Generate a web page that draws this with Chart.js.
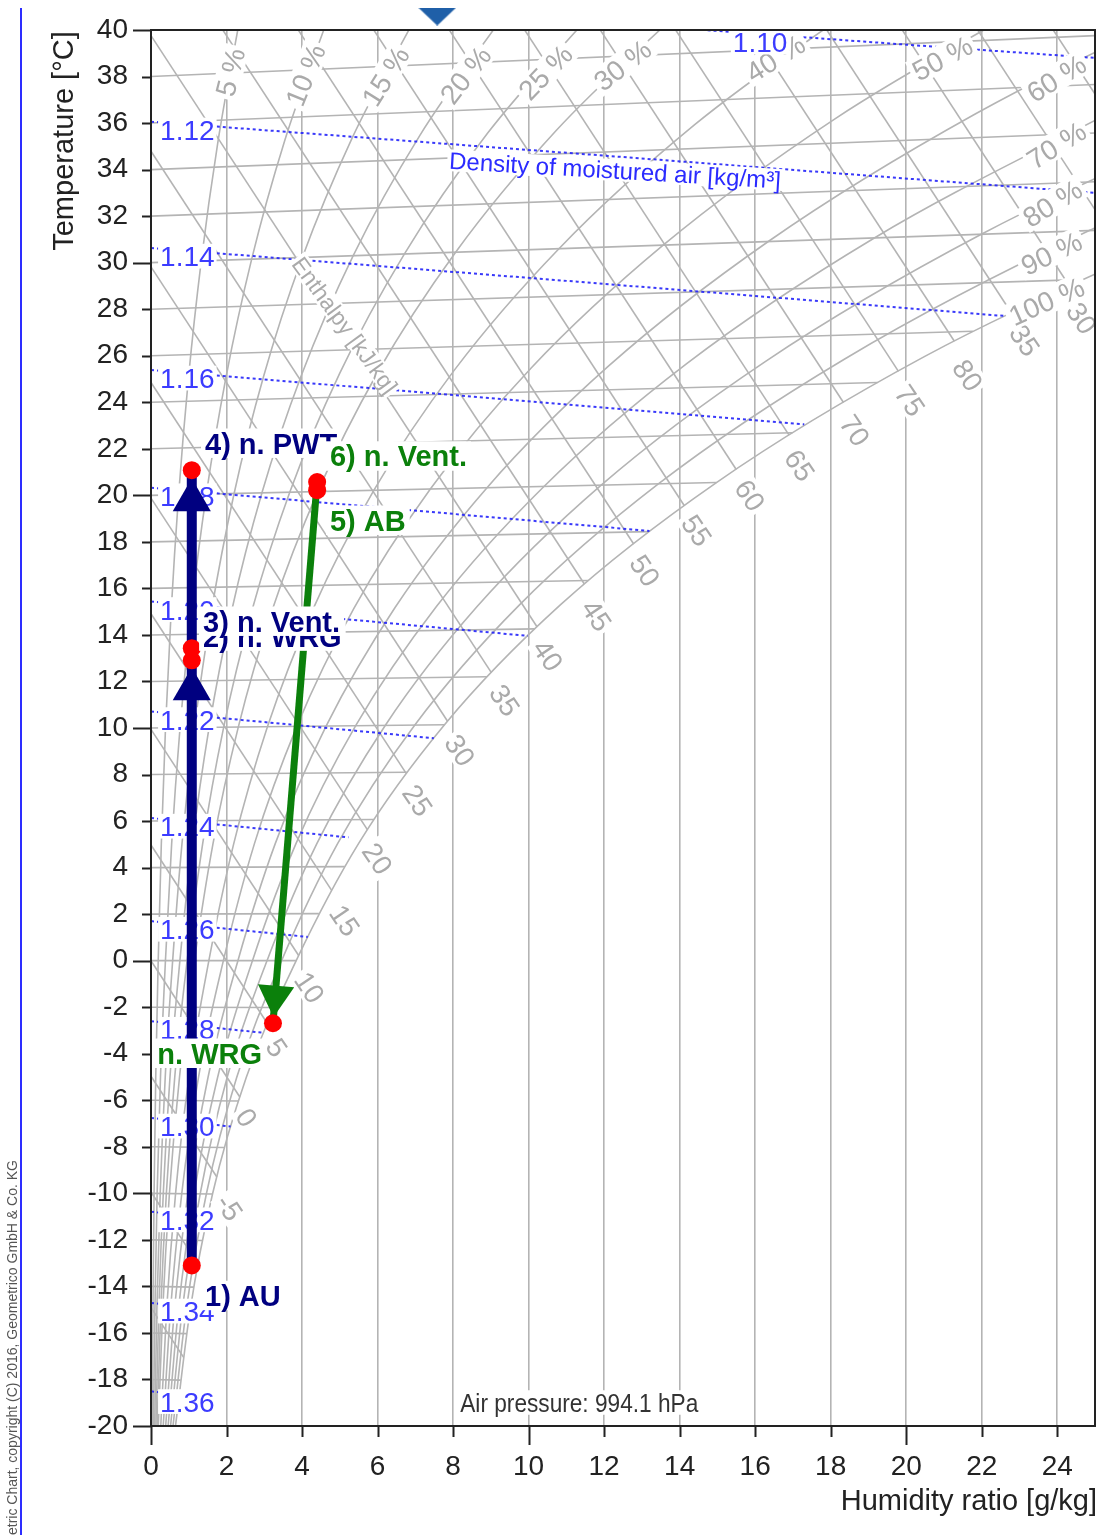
<!DOCTYPE html>
<html lang="en">
<head>
<meta charset="utf-8">
<title>Psychrometric chart</title>
<script src="https://cdn.jsdelivr.net/npm/chart.js@4.4.1/dist/chart.umd.min.js"></script>
<style>
  html, body { margin: 0; padding: 0; background: #ffffff; }
  canvas { display: block; }
</style>
</head>
<body>
<canvas id="psychroChart" width="1104" height="1535"></canvas>
<script>
// axis ticks
const xTicks = [0, 2, 4, 6, 8, 10, 12, 14, 16, 18, 20, 22, 24];
const yTicks = [-20, -18, -16, -14, -12, -10, -8, -6, -4, -2, 0, 2, 4, 6, 8, 10, 12, 14, 16, 18, 20, 22, 24, 26, 28, 30, 32, 34, 36, 38, 40];

// isotherms every 2 °C, end point on the saturation line (or the right border)
const isoTemps = [-20, -18, -16, -14, -12, -10, -8, -6, -4, -2, 0, 2, 4, 6, 8, 10, 12, 14, 16, 18, 20, 22, 24, 26, 28, 30, 32, 34, 36, 38];
const isoEndX = [0.646, 0.786, 0.946, 1.138, 1.363, 1.629, 1.944, 2.314, 2.748, 3.254, 3.845, 4.446, 5.128, 5.904, 6.781, 7.773, 8.898, 10.162, 11.581, 13.182, 14.975, 16.989, 19.242, 21.766, 24.586, 25, 25, 25, 25, 25];
const isoEndY = [-20.02, -18.03, -16.03, -14.03, -12.03, -10.03, -8.03, -6.03, -4.02, -2.01, 0, 2.02, 4.04, 6.07, 8.10, 10.14, 12.20, 14.26, 16.34, 18.44, 20.55, 22.69, 24.85, 27.05, 29.27, 31.39, 33.48, 35.57, 37.66, 39.76];

// enthalpy lines [kJ/kg]
const enthValues = [-15, -10, -5, 0, 5, 10, 15, 20, 25, 30, 35, 40, 45, 50, 55, 60, 65, 70, 75, 80, 85, 90, 95, 100];
const enthStartY = [-14.91, -9.94, -4.97, 0, 4.97, 9.94, 14.91, 19.88, 24.85, 29.82, 34.79, 39.76, 44.73, 49.70, 54.67, 59.64, 64.61, 69.58, 74.55, 79.52, 84.49, 89.46, 94.43, 99.40];
const enthEndX = [0.864, 1.249, 1.744, 2.352, 3.083, 3.910, 4.784, 5.734, 6.758, 7.854, 9.014, 10.222, 11.477, 12.783, 14.125, 15.499, 16.898, 18.339, 19.795, 21.276, 22.784, 24.301, 25, 25];
const enthEndY = [-17.05, -13.04, -9.30, -5.86, -2.70, 0.22, 3.02, 5.62, 8.05, 10.29, 12.38, 14.35, 16.19, 17.91, 19.55, 21.11, 22.59, 23.99, 25.33, 26.62, 27.85, 29.05, 32.28, 37.25];
const enthLabelText = ['-5', '0', '5', '10', '15', '20', '25', '30', '35', '40', '45', '50', '55', '60', '65', '70', '75', '80', '35', '30'];
const enthLabelX = [2.09, 2.54, 3.34, 4.21, 5.14, 6.01, 7.07, 8.19, 9.38, 10.52, 11.81, 13.09, 14.46, 15.87, 17.19, 18.65, 20.11, 21.64, 23.15, 24.66];
const enthLabelY = [-10.6, -6.73, -3.72, -1.14, 1.74, 4.4, 6.9, 9.05, 11.2, 13.13, 14.85, 16.78, 18.5, 20.01, 21.3, 22.8, 24.09, 25.17, 26.67, 27.62];

// relative humidity curves, points at -20, -15, ... °C
const rhLevels = [5, 10, 15, 20, 25, 30, 40, 50, 60, 70, 80, 90, 100];
const rhX = [
  [0.0323, 0.0517, 0.0813, 0.1256, 0.1911, 0.2729, 0.3841, 0.5336, 0.7320, 0.9924, 1.3303, 1.7642, 2.3158],
  [0.0646, 0.1034, 0.1625, 0.2513, 0.3824, 0.5460, 0.7687, 1.0680, 1.4656, 1.9879, 2.6661, 3.5382, 4.6487],
  [0.0969, 0.1551, 0.2438, 0.3771, 0.5738, 0.8194, 1.1537, 1.6034, 2.2011, 2.9866, 4.0078, 5.3226, 6.9996],
  [0.1292, 0.2068, 0.3252, 0.5029, 0.7653, 1.0930, 1.5393, 2.1397, 2.9383, 3.9885, 5.3553, 7.1170, 9.3679],
  [0.1615, 0.2585, 0.4065, 0.6287, 0.9569, 1.3669, 1.9252, 2.6769, 3.6772, 4.9937, 6.7086, 8.9217, 11.7542],
  [0.1938, 0.3102, 0.4878, 0.7545, 1.1486, 1.6409, 2.3118, 3.2150, 4.4178, 6.0021, 8.0677, 10.7370, 14.1585],
  [0.2584, 0.4136, 0.6506, 1.0065, 1.5325, 2.1899, 3.0861, 4.2942, 5.9045, 8.0285, 10.8037, 14.3988, 19.0224],
  [0.3230, 0.5174, 0.8136, 1.2586, 1.9168, 2.7397, 3.8624, 5.3770, 7.3982, 10.0682, 13.5635, 18.1034, 23.9613],
  [0.3876, 0.6208, 0.9765, 1.5110, 2.3015, 3.2905, 4.6407, 6.4636, 8.8990, 12.1210, 16.3474, 21.8511, 28.9767],
  [0.4520, 0.7244, 1.1395, 1.7635, 2.6868, 3.8424, 5.4209, 7.5538, 10.4068, 14.1873, 19.1560, 25.6436],
  [0.5166, 0.8280, 1.3026, 2.0162, 3.0725, 4.3952, 6.2030, 8.6480, 11.9222, 16.2670, 21.9892, 29.4802],
  [0.5812, 0.9317, 1.4659, 2.2692, 3.4586, 4.9489, 6.9871, 9.7460, 13.4445, 18.3606, 24.8477, 33.3626],
  [0.6464, 1.0353, 1.6292, 2.5223, 3.8453, 5.5037, 7.7732, 10.8476, 14.9744, 20.4675, 27.7320]
];
const rhY = [
  [-20, -15, -10, -5, 0, 5.00, 10.01, 15.01, 20.03, 25.05, 30.07, 35.11, 40.17],
  [-20, -15, -10, -5, 0, 5.00, 10.01, 15.03, 20.05, 25.09, 30.15, 35.23, 40.34],
  [-20, -15, -10, -5, 0, 5.01, 10.02, 15.04, 20.08, 25.14, 30.22, 35.34, 40.52],
  [-20, -15.01, -10.01, -5, 0, 5.01, 10.03, 15.06, 20.11, 25.18, 30.30, 35.46, 40.69],
  [-20.01, -15.01, -10.01, -5.01, 0, 5.01, 10.04, 15.07, 20.14, 25.23, 30.37, 35.58, 40.87],
  [-20.01, -15.01, -10.01, -5.01, 0, 5.02, 10.04, 15.09, 20.16, 25.28, 30.45, 35.69, 41.05],
  [-20.01, -15.01, -10.01, -5.01, 0, 5.02, 10.06, 15.12, 20.22, 25.37, 30.60, 35.93, 41.41],
  [-20.01, -15.01, -10.02, -5.01, 0, 5.03, 10.07, 15.15, 20.27, 25.47, 30.75, 36.17, 41.77],
  [-20.02, -15.02, -10.02, -5.01, 0, 5.03, 10.09, 15.18, 20.33, 25.56, 30.91, 36.41, 42.14],
  [-20.02, -15.02, -10.02, -5.02, 0, 5.04, 10.10, 15.21, 20.38, 25.66, 31.06, 36.66],
  [-20.02, -15.02, -10.02, -5.02, 0, 5.04, 10.11, 15.24, 20.44, 25.75, 31.22, 36.91],
  [-20.02, -15.03, -10.03, -5.02, 0, 5.05, 10.13, 15.27, 20.50, 25.85, 31.38, 37.16],
  [-20.02, -15.03, -10.03, -5.02, 0, 5.05, 10.14, 15.30, 20.55, 25.95, 31.54]
];
const rhLabelText = ['5 %', '10 %', '15 %', '20 %', '25 %', '30 %', '40 %', '50 %', '60 %', '70 %', '80 %', '90 %', '100 %'];
const rhLabelX = [2.09, 4.08, 6.20, 8.32, 10.44, 12.48, 16.53, 20.95, 23.97, 23.97, 23.87, 23.84, 23.71];
const rhLabelY = [38.19, 38.07, 38.02, 38.07, 38.19, 38.50, 38.80, 38.80, 37.94, 35.06, 32.56, 30.41, 28.35];
const rhLabelAngle = [-76, -68, -58, -52, -46, -38, -32, -28, -32, -32, -32, -26, -24];

// density of moist air [kg/m³]
const densLabels = ['1.10', '1.12', '1.14', '1.16', '1.18', '1.20', '1.22', '1.24', '1.26', '1.28', '1.30', '1.32', '1.34', '1.36'];
const densX = [
  [0, 10, 15, 20, 25], [0, 12.5, 25], [0, 11.3, 22.6], [0, 8.65, 17.3], [0, 6.6, 13.2], [0, 5, 9.98],
  [0, 3.75, 7.49], [0, 2.6, 5.23], [0, 4.15], [0, 2.97], [0, 2.11], [0, 1.49], [0, 1.05], [0, 0.74]
];
const densY = [
  [41.68, 40.53, 39.96, 39.37, 38.80], [36.06, 34.54, 33.00], [30.63, 29.18, 27.71], [25.39, 24.22, 23.05],
  [20.33, 19.40, 18.47], [15.44, 14.70, 13.96], [10.71, 10.14, 9.56], [6.13, 5.72, 5.30], [1.70, 1.02],
  [-2.60, -3.10], [-6.76, -7.13], [-10.79, -11.06], [-14.71, -14.90], [-18.51, -18.65]
];
const densLabelX = [16.13, 0.24, 0.24, 0.24, 0.24, 0.24, 0.24, 0.24, 0.24, 0.24, 0.24, 0.24, 0.24, 0.24];
const densLabelY = [39.48, 35.70, 30.28, 25.04, 19.98, 15.09, 10.36, 5.78, 1.35, -2.95, -7.11, -11.14, -15.06, -18.95];

// captions inside the plot
const captionText = ['Density of moistured air [kg/m³]', 'Enthalpy [kJ/kg]', 'Air pressure: 994.1 hPa'];
const captionX = [12.29, 5.14, 8.19];
const captionY = [33.98, 27.32, -18.99];
const captionAngle = [3.4, 54, 0];

// air handling process: state points
const procLabels = ['1) AU', '2) n. WRG', '3) n. Vent.', '4) n. PWT', '5) AB', '6) n. Vent.', '7) n. WRG'];
const procX = [1.08, 1.08, 1.08, 1.08, 4.40, 4.40, 3.23];
const procY = [-13.1, 12.91, 13.43, 21.08, 20.22, 20.57, -2.69];
const procLabelX = [1.43, 1.38, 1.38, 1.43, 4.74, 4.74, 2.94];
const procLabelY = [-14.39, 13.95, 14.59, 22.24, 18.93, 21.69, -3.98];
const procSegments = [[0, 1], [2, 3], [5, 6]];
const arrowX = [1.08, 1.08, 3.29];
const arrowY = [11.67, 19.79, -1.53];
const arrowRot = [0, 0, 184.7];
const markerX = [7.58];
const markerY = [40.58];

const FONT = "'Liberation Sans', Arial, Helvetica, sans-serif";
const gridGray = '#b4b4b4';
const labelGray = '#aaaaaa';
const densBlue = 'rgba(35, 35, 250, 0.9)';
const navy = '#000080';
const green = '#0b800b';
const procColors = [navy, navy, navy, navy, green, green, green];
const procAlign = ['left', 'left', 'left', 'left', 'left', 'left', 'right'];

Chart.defaults.font.family = FONT;

// little flat triangle used as the marker above the plot
const markerImg = document.createElement('canvas');
markerImg.width = 38;
markerImg.height = 18;
(function () {
  const t = markerImg.getContext('2d');
  t.fillStyle = '#1f5fa8';
  t.beginPath();
  t.moveTo(0, 0);
  t.lineTo(38, 0);
  t.lineTo(19, 18);
  t.closePath();
  t.fill();
})();

const datasets = [];
const bgLine = (data) => ({ data, showLine: true, borderColor: gridGray, borderWidth: 1.6, pointRadius: 0, order: 10 });

isoTemps.forEach((t, i) => datasets.push(bgLine([{ x: 0, y: t }, { x: isoEndX[i], y: isoEndY[i] }])));
enthValues.forEach((h, i) => datasets.push(bgLine([{ x: 0, y: enthStartY[i] }, { x: enthEndX[i], y: enthEndY[i] }])));
rhLevels.forEach((rh, i) => {
  const ds = bgLine(rhX[i].map((x, j) => ({ x, y: rhY[i][j] })));
  ds.cubicInterpolationMode = 'monotone';
  datasets.push(ds);
});
densLabels.forEach((d, i) => datasets.push({
  data: densX[i].map((x, j) => ({ x, y: densY[i][j] })),
  showLine: true, borderColor: densBlue, borderWidth: 2, borderDash: [3, 3], pointRadius: 0, order: 9
}));

procSegments.forEach(([a, b]) => datasets.push({
  layer: 'process',
  data: [{ x: procX[a], y: procY[a] }, { x: procX[b], y: procY[b] }],
  showLine: true,
  borderColor: procColors[a],
  borderWidth: procColors[a] === navy ? 10 : 7,
  pointRadius: 0,
  order: 3
}));

datasets.push({
  layer: 'process',
  data: arrowX.map((x, i) => ({ x, y: arrowY[i] })),
  pointStyle: 'triangle',
  pointRadius: [22, 22, 21],
  pointRotation: arrowRot,
  pointBackgroundColor: [navy, navy, green],
  pointBorderWidth: 0,
  order: 2
});

datasets.push({
  layer: 'process',
  data: procX.map((x, i) => ({ x, y: procY[i] })),
  pointRadius: 9,
  pointBackgroundColor: '#ff0000',
  pointBorderWidth: 0,
  order: 1
});

datasets.push({
  layer: 'process',
  data: markerX.map((x, i) => ({ x, y: markerY[i] })),
  pointStyle: markerImg,
  pointRadius: 20,
  clip: false,
  order: 0
});

function drawLabel(ctx, text, px, py, deg, size, weight, color, align, pad, fitWidth) {
  ctx.save();
  ctx.translate(px, py);
  ctx.rotate(deg * Math.PI / 180);
  ctx.font = weight + ' ' + size + 'px ' + FONT;
  let w = ctx.measureText(text).width;
  if (fitWidth) w = fitWidth;
  const h = size * 0.74;
  const left = align === 'left' ? 0 : (align === 'right' ? -w : -w / 2);
  if (pad !== null) {
    ctx.fillStyle = '#ffffff';
    ctx.fillRect(left - pad, -h / 2 - pad, w + pad * 2, h + pad * 2);
  }
  ctx.fillStyle = color;
  ctx.textAlign = align;
  ctx.textBaseline = 'alphabetic';
  if (fitWidth) ctx.fillText(text, 0, size * 0.36, fitWidth);
  else ctx.fillText(text, 0, size * 0.36);
  ctx.restore();
}

function clipToArea(ctx, a) {
  ctx.beginPath();
  ctx.rect(a.left, a.top, a.right - a.left, a.bottom - a.top);
  ctx.clip();
}

// labels of the chart's own line families, drawn below the process
function drawChartLabels(chart) {
  const { ctx, chartArea, scales: { x, y } } = chart;
  ctx.save();
  clipToArea(ctx, chartArea);
  enthLabelText.forEach((t, i) => drawLabel(ctx, t, x.getPixelForValue(enthLabelX[i]), y.getPixelForValue(enthLabelY[i]), 56, 28, 'normal', labelGray, 'center', 3));
  rhLabelText.forEach((t, i) => drawLabel(ctx, t, x.getPixelForValue(rhLabelX[i]), y.getPixelForValue(rhLabelY[i]), rhLabelAngle[i], 28, 'normal', labelGray, 'center', 3));
  densLabels.forEach((t, i) => drawLabel(ctx, t, x.getPixelForValue(densLabelX[i]), y.getPixelForValue(densLabelY[i]), 0, 28, 'normal', '#3c3cff', i === 0 ? 'center' : 'left', 2));
  drawLabel(ctx, captionText[0], x.getPixelForValue(captionX[0]), y.getPixelForValue(captionY[0]), captionAngle[0], 24, 'normal', '#2b2bff', 'center', 2);
  drawLabel(ctx, captionText[1], x.getPixelForValue(captionX[1]), y.getPixelForValue(captionY[1]), captionAngle[1], 23, 'normal', labelGray, 'center', 2);
  drawLabel(ctx, captionText[2], x.getPixelForValue(captionX[2]), y.getPixelForValue(captionY[2]), captionAngle[2], 25, 'normal', '#333333', 'left', 3, 238);
  ctx.restore();
}

function drawProcessLabels(chart) {
  const { ctx, chartArea, scales: { x, y } } = chart;
  ctx.save();
  clipToArea(ctx, chartArea);
  procLabels.forEach((t, i) => drawLabel(ctx, t, x.getPixelForValue(procLabelX[i]), y.getPixelForValue(procLabelY[i]), 0, 29, 'bold', procColors[i], procAlign[i], 4));
  ctx.restore();
}

function drawFrame(chart) {
  const { ctx, chartArea: a, scales: { x, y } } = chart;
  ctx.save();
  ctx.strokeStyle = '#222222';
  ctx.lineWidth = 2;
  ctx.strokeRect(a.left, a.top, a.right - a.left, a.bottom - a.top);
  ctx.beginPath();
  yTicks.forEach(v => {
    const py = Math.round(y.getPixelForValue(v)) + 0.5;
    ctx.moveTo(a.left - (v % 10 === 0 ? 18 : 9), py);
    ctx.lineTo(a.left, py);
  });
  xTicks.forEach(v => {
    const px = Math.round(x.getPixelForValue(v)) + 0.5;
    ctx.moveTo(px, a.bottom);
    ctx.lineTo(px, a.bottom + (v % 10 === 0 ? 19 : 11));
  });
  ctx.stroke();

  // axis titles
  ctx.fillStyle = '#222222';
  ctx.font = '29px ' + FONT;
  ctx.textBaseline = 'middle';
  ctx.save();
  ctx.translate(65, 141);
  ctx.rotate(-Math.PI / 2);
  ctx.textAlign = 'center';
  ctx.fillText('Temperature [°C]', 0, 0);
  ctx.restore();
  ctx.textAlign = 'right';
  ctx.fillText('Humidity ratio [g/kg]', 1097, 1502);

  // copyright strip on the left
  ctx.strokeStyle = '#2d2dff';
  ctx.lineWidth = 2;
  ctx.beginPath();
  ctx.moveTo(21, 8);
  ctx.lineTo(21, 1535);
  ctx.stroke();
  ctx.save();
  ctx.translate(13, 1160);
  ctx.rotate(-Math.PI / 2);
  ctx.font = '14px ' + FONT;
  ctx.fillStyle = '#555555';
  ctx.textAlign = 'right';
  ctx.fillText('Psychrometric Chart, copyright (C) 2016, Geometrico GmbH & Co. KG', 0, 0);
  ctx.restore();
  ctx.restore();
}

let bgLabelsDone = false;
const psychroLayers = {
  id: 'psychroLayers',
  beforeDatasetsDraw() { bgLabelsDone = false; },
  beforeDatasetDraw(chart, args) {
    const ds = chart.data.datasets[args.index];
    if (ds.layer === 'process' && !bgLabelsDone) {
      drawChartLabels(chart);
      bgLabelsDone = true;
    }
  },
  afterDatasetsDraw(chart) { drawProcessLabels(chart); },
  afterDraw(chart) { drawFrame(chart); }
};

// keep the plot box fixed: no extra room asked for by the edge tick labels
function noEdgePadding(axis) {
  axis.paddingTop = 0;
  axis.paddingBottom = 0;
  axis.paddingLeft = 0;
  axis.paddingRight = 0;
}

new Chart(document.getElementById('psychroChart').getContext('2d'), {
  type: 'scatter',
  data: { datasets },
  options: {
    responsive: false,
    animation: false,
    events: [],
    layout: { autoPadding: false, padding: { top: 30, right: 9, left: 0, bottom: 0 } },
    plugins: { legend: { display: false }, tooltip: { enabled: false } },
    scales: {
      x: {
        type: 'linear',
        min: 0,
        max: 25,
        afterBuildTicks: (axis) => { axis.ticks = xTicks.map(v => ({ value: v })); },
        afterFit: (axis) => { axis.height = 109; noEdgePadding(axis); },
        grid: { color: gridGray, lineWidth: 1.6, drawTicks: false },
        border: { display: false },
        ticks: { autoSkip: false, maxRotation: 0, padding: 24, color: '#222222', font: { size: 28 }, callback: (v) => String(v) }
      },
      y: {
        type: 'linear',
        min: -20,
        max: 40,
        afterBuildTicks: (axis) => { axis.ticks = yTicks.map(v => ({ value: v })); },
        afterFit: (axis) => { axis.width = 151; noEdgePadding(axis); },
        grid: { display: false, drawTicks: false },
        border: { display: false },
        ticks: { autoSkip: false, padding: 23, color: '#222222', font: { size: 28 }, callback: (v) => String(v) }
      }
    }
  },
  plugins: [psychroLayers]
});
</script>
</body>
</html>
